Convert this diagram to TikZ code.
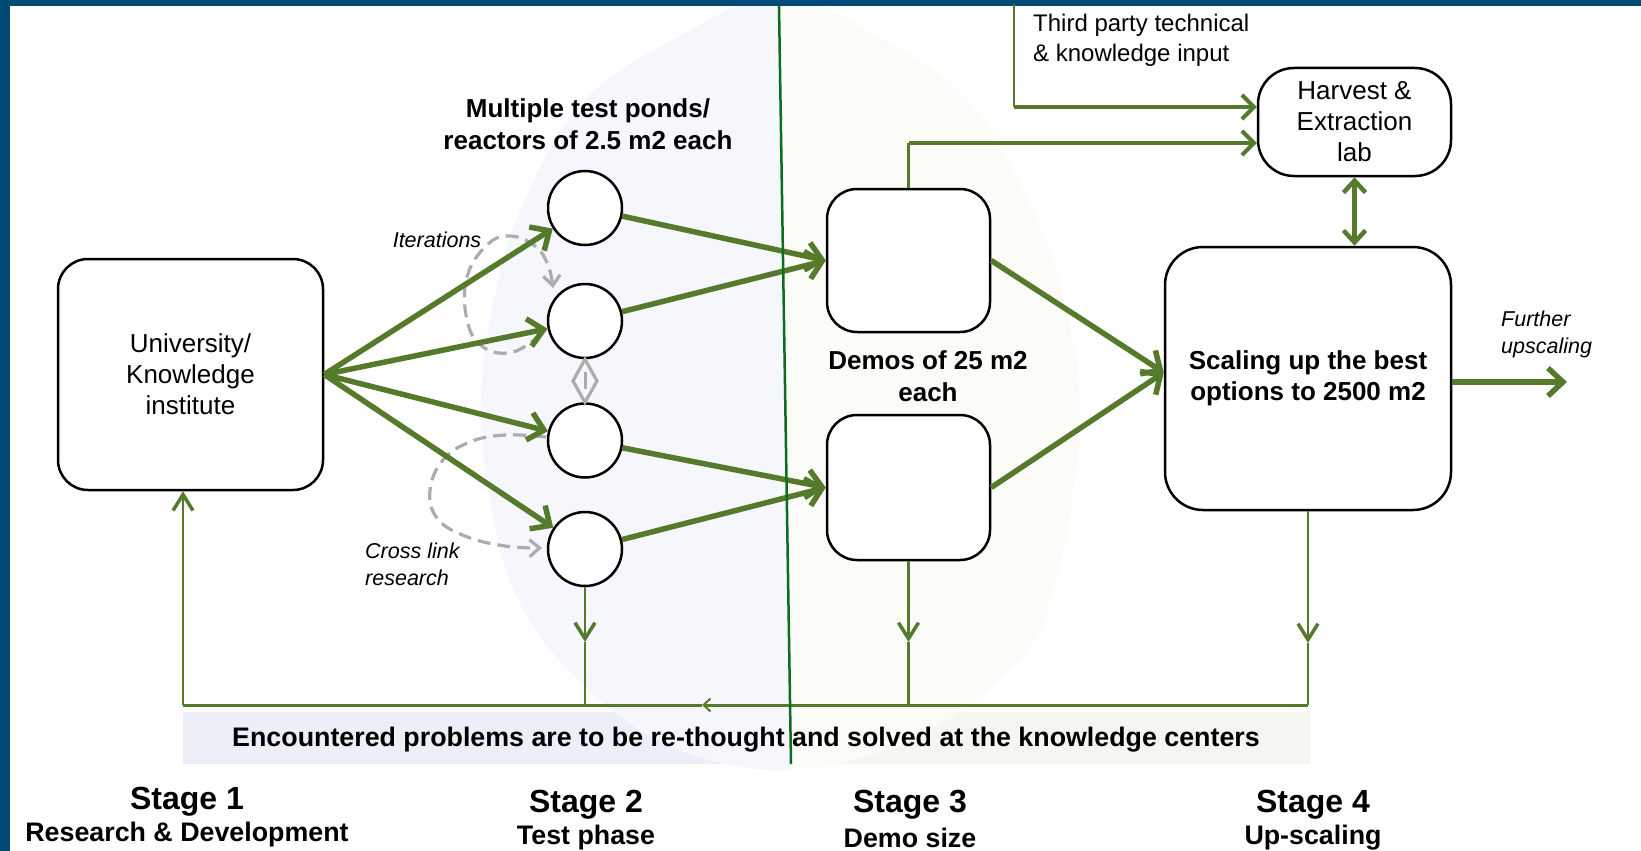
\documentclass[tikz,border=0pt]{standalone}
\usepackage{fontspec}
\setmainfont{Liberation Sans}
\usetikzlibrary{arrows.meta,calc}
\definecolor{grn}{RGB}{86,122,44}
\definecolor{dgrn}{RGB}{10,110,30}
\definecolor{navy}{RGB}{0,74,120}
\definecolor{blueshade}{RGB}{245,247,252}
\definecolor{greenshade}{RGB}{251,251,248}
\definecolor{bandblue}{RGB}{236,239,247}
\definecolor{bandgreen}{RGB}{244,246,239}
\definecolor{loopgray}{RGB}{172,172,172}
\tikzset{
  box/.style={draw=black, line width=2.5pt, rounded corners=30pt, fill=white, inner sep=0pt, align=center},
  pond/.style={circle, draw=black, line width=2.5pt, fill=white, minimum size=74pt, inner sep=0pt},
  flow/.style={draw=grn, line width=5.5pt, -{Straight Barb[length=15pt,width=28pt]}},
  medarr/.style={draw=grn, line width=4pt, -{Straight Barb[length=12pt,width=24pt]}},
  thinline/.style={draw=grn, line width=2.5pt},
  thinarr/.style={draw=grn, line width=2.5pt, -{Straight Barb[length=16pt,width=20pt,line width=3.5pt]}},
  gloop/.style={draw=loopgray, line width=3.2pt, dash pattern=on 13pt off 7pt, -{Straight Barb[length=10pt,width=17pt]}},
  txt/.style={inner sep=0pt, font=\fontsize{26}{31}\selectfont, align=center},
  btxt/.style={inner sep=0pt, font=\fontsize{26}{32}\selectfont\bfseries, align=center},
  itxt/.style={inner sep=0pt, font=\fontsize{21.5}{27}\selectfont\itshape, align=left},
  stagetxt/.style={inner sep=0pt, font=\fontsize{32}{36}\selectfont\bfseries},
  subtxt/.style={inner sep=0pt, font=\fontsize{26.8}{32}\selectfont\bfseries},
}
\begin{document}
\begin{tikzpicture}[x=1pt,y=-1pt]
\useasboundingbox (0,0) rectangle (1641,851);
% backgrounds: left of divider
\begin{scope}
  \clip (-5,-10) -- (778.7,-10) -- (792.4,860) -- (-5,860) -- cycle;
  \fill[bandblue] (183,712) rectangle (1310,764);
  \fill[blueshade] plot[smooth cycle, tension=0.65] coordinates {(780,-4) (880,38) (968,100) (1028,200) (1064,300) (1080,400) (1072,500) (1055,580) (1030,647) (958,713) (880,752) (780,770) (690,754) (615,713) (548,647) (510,580) (490,500) (481,400) (494,300) (525,200) (585,100) (680,36)};
\end{scope}
\begin{scope}
  \clip (778.7,-10) -- (1700,-10) -- (1700,860) -- (792.4,860) -- cycle;
  \fill[bandgreen] (183,712) rectangle (1310,764);
  \fill[greenshade] plot[smooth cycle, tension=0.65] coordinates {(780,-4) (880,38) (968,100) (1028,200) (1064,300) (1080,400) (1072,500) (1055,580) (1030,647) (958,713) (880,752) (780,770) (690,754) (615,713) (548,647) (510,580) (490,500) (481,400) (494,300) (525,200) (585,100) (680,36)};
\end{scope}
% borders
\fill[navy] (0,0) rectangle (1641,6);
\fill[navy] (0,0) rectangle (9.5,851);

% nodes
\node[box, minimum width=265pt, minimum height=231pt, font=\fontsize{26}{31}\selectfont] (uni) at (190.5,374.5) {University/\\Knowledge\\institute};
\node[pond] (c1) at (585,208) {};
\node[pond] (c2) at (585,321) {};
\node[pond] (c3) at (585,440.5) {};
\node[pond] (c4) at (585,549) {};
\node[box, minimum width=163pt, minimum height=143pt] (d1) at (908.5,260.5) {};
\node[box, minimum width=163pt, minimum height=145pt] (d2) at (908.5,487.5) {};
\node[box, rounded corners=36pt, minimum width=193pt, minimum height=108pt, font=\fontsize{26}{31}\selectfont] (hv) at (1354.5,122) {Harvest \&\\Extraction\\lab};
\node[box, rounded corners=38pt, minimum width=286pt, minimum height=263pt, font=\fontsize{26}{31}\selectfont\bfseries] (sc) at (1308,378.5) {\raisebox{-5pt}{\parbox{280pt}{\centering Scaling up the best\\options to 2500 m2}}};

% texts
\node[btxt] (mult) at (588,124) {Multiple test ponds/\\reactors of 2.5 m2 each};
\node[txt, font=\fontsize{24}{30}\selectfont, align=left, anchor=west] (third) at (1033,40) {Third party technical\\\& knowledge input};
\node[itxt] (iter) at (437,240) {Iterations};
\node[itxt, anchor=west] (cross) at (365,564) {Cross link\\research};
\node[itxt, anchor=west] (further) at (1501,334) {Further\\upscaling};
\node[btxt] (demos) at (928,376) {Demos of 25 m2\\each};
\node[subtxt] (enc) at (746,740) {Encountered problems are to be re-thought and solved at the knowledge centers};
\node[stagetxt] (s1) at (187,802) {Stage 1};
\node[subtxt] (s1b) at (187,835) {Research \& Development};
\node[stagetxt] (s2) at (586,805) {Stage 2};
\node[subtxt] (s2b) at (586,838) {Test phase};
\node[stagetxt] (s3) at (910,805) {Stage 3};
\node[subtxt] (s3b) at (910,838) {Demo size};
\node[stagetxt] (s4) at (1313,805) {Stage 4};
\node[subtxt] (s4b) at (1313,838) {Up-scaling};

% gray loops
\draw[gloop] plot[smooth, tension=0.7] coordinates {(541,334) (513,352) (483,347) (467,320) (467,277) (487,245) (510,236) (535,246) (548,265) (553,288)};
\draw[gloop] plot[smooth, tension=0.7] coordinates {(546,437) (505,435) (470,442) (443,460) (430,490) (437,518) (465,536) (505,546) (542,548)};
% diamond between c2 and c3
\draw[loopgray, line width=3.2pt, line join=miter] (c2.south) -- (597,381) -- (c3.north) -- (573,381) -- cycle;
\draw[loopgray, line width=3pt] (585,372) -- (585,389);

% flows
\foreach \c in {c1,c2,c3,c4} \draw[flow] (uni.east) -- (\c);
\draw[flow] (c1) -- (d1.west);
\draw[flow] (c2) -- (d1.west);
\draw[flow] (c3) -- (d2.west);
\draw[flow] (c4) -- (d2.west);
\draw[flow] (d1.east) -- ($(sc.west)+(0,-6)$);
\draw[flow] (d2.east) -- ($(sc.west)+(0,-6)$);
\coordinate (fu) at (1567,382);
\draw[flow] (sc.east |- fu) -- (fu);
\draw[draw=grn, line width=4.5pt, {Straight Barb[length=12pt,width=22pt]}-{Straight Barb[length=12pt,width=22pt]}] (hv.south) -- (hv.south |- sc.north);

% third party input
\coordinate (tp) at (1014,4);
\coordinate (tpc) at (1014,107);
\draw[thinline] (tp) -- (tpc);
\draw[medarr] (tpc) -- (tpc -| hv.west);
\coordinate (dc) at (908.5,143);
\draw[thinline] (d1.north) -- (dc);
\draw[medarr] (dc) -- (dc -| hv.west);

% feedback loop
\coordinate (m1) at (585,642);
\coordinate (m2) at (908.5,642);
\coordinate (m3) at (1308,643);
\coordinate (b1) at (585,705);
\coordinate (b2) at (908.5,705);
\coordinate (b3) at (1308,705);
\coordinate (bmid) at (702,705);
\coordinate (bl) at (183,705);
\draw[thinarr] (c4.south) -- (m1);
\draw[thinline] (m1) -- (b1);
\draw[thinarr] (d2.south) -- (m2);
\draw[thinline] (m2) -- (b2);
\draw[thinarr] (sc.south) -- (m3);
\draw[thinline] (m3) -- (b3);
\draw[draw=grn, line width=3pt, -{Straight Barb[length=7pt,width=13pt,line width=2pt]}] (b3) -- (bmid);
\draw[draw=grn, line width=3pt] (bmid) -- (bl);
\draw[thinarr] (bl) -- (bl |- uni.south);

% divider
\coordinate (dv1) at (779,6);
\coordinate (dv2) at (791,764);
\draw[dgrn, line width=2.5pt] (dv1) -- (dv2);
\end{tikzpicture}
\end{document}
